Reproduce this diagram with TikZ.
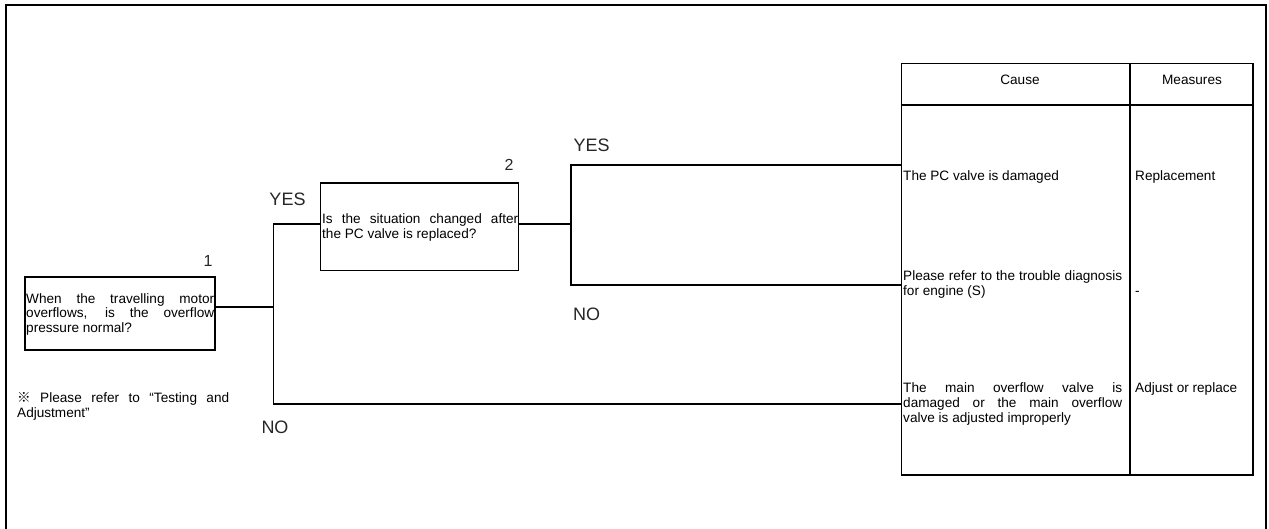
\documentclass[tikz,border=0pt]{standalone}
\usepackage{fontspec}
\setmainfont{Liberation Sans}
\newfontfamily\cjkmark{Noto Sans CJK SC}
\newcommand\firstln{\hyphenpenalty=10000 \exhyphenpenalty=10000 \tolerance=10000 \rule{0pt}{10pt}}
\begin{document}
\begin{tikzpicture}[x=1pt,y=-1pt,
  box/.style={draw, line width=1.6pt, inner sep=0pt},
  conn/.style={line width=1.4pt},
  txt/.style={anchor=north west, inner sep=0pt, align=justify,
    font=\fontsize{13.6}{15}\selectfont},
  one/.style={anchor=base west, inner sep=0pt, font=\fontsize{13.6}{15}\selectfont},
  lbl/.style={anchor=base, inner sep=0pt, text=black!85, font=\fontsize{18}{18}\selectfont},
  num/.style={anchor=base, inner sep=0pt, text=black!85, font=\fontsize{16}{16}\selectfont}]
\useasboundingbox (0,0) rectangle (1269,529);
% frame
\draw[line width=2.5pt] (6,529) -- (6,5) -- (1266,5) -- (1266,529);

% question boxes
\node[box, minimum width=190pt, minimum height=73pt] (b1) at (120,313.5) {};
\node[box, minimum width=198pt, minimum height=87.5pt] (b2) at (419.5,226.75) {};

% table
\node[box, minimum width=351.5pt, minimum height=411.5pt] (tbl) at (1077.25,269.25) {};
\coordinate (hd) at (0,105);
\coordinate (cd) at (1130,0);
\draw[line width=1.6pt] (tbl.west |- hd) -- (tbl.east |- hd);
\draw[line width=1.6pt] (tbl.north -| cd) -- (tbl.south -| cd);

% junctions
\coordinate (j1) at (273.5,307);
\coordinate (y1) at (273.5,224);
\coordinate (n1) at (273.5,404);
\coordinate (j2) at (571,224);
\coordinate (y2) at (571,165);
\coordinate (n2) at (571,285);

% connectors
\draw[conn] (b1.east |- j1) -- (j1);
\draw[conn] (b2.west |- y1) -- (y1) -- (n1) -- (tbl.west |- n1);
\draw[conn] (b2.east |- j2) -- (j2);
\draw[conn] (tbl.west |- y2) -- (y2) -- (n2) -- (tbl.west |- n2);

% labels
\node[num] (l1) at (208,266.7) {1};
\node[num] (l2) at (509,170.7) {2};
\node[lbl] (yes1) at (287.5,206) {YES};
\node[lbl] (no1) at (275,433.3) {NO};
\node[lbl] (yes2) at (591.7,151.7) {YES};
\node[lbl] (no2) at (586.7,320) {NO};

% box texts
\node[txt, text width=188pt, font=\fontsize{13.6}{14.5}\selectfont] (t1) at (26,293.3)
  {\firstln When the travelling motor\linebreak overflows, is the overflow\linebreak pressure normal?};
\node[txt, text width=196pt] (t2) at (322,213)
  {\firstln Is the situation changed after\linebreak the PC valve is replaced?};

% note
\node[txt, text width=212pt, font=\fontsize{13.6}{15.5}\selectfont] (note) at (17,392.2)
  {\firstln{\cjkmark ※} Please refer to “Testing and\linebreak Adjustment”};

% table texts
\node[anchor=base, inner sep=0pt, font=\fontsize{13.6}{15}\selectfont] (hc) at (1020,85) {Cause};
\node[anchor=base, inner sep=0pt, font=\fontsize{13.6}{15}\selectfont] (hm) at (1192,85) {Measures};
\node[one] (c1) at (903,181) {The PC valve is damaged};
\node[txt, text width=219pt] (c2) at (903,270)
  {\firstln Please refer to the trouble diagnosis\linebreak for engine (S)};
\node[txt, text width=219pt] (c3) at (903,382.6)
  {\firstln The main overflow valve is\linebreak damaged or the main overflow\linebreak valve is adjusted improperly};
\node[one] (m1) at (1135,181) {Replacement};
\node[one] (m2) at (1135,296) {-};
\node[one] (m3) at (1135,392.6) {Adjust or replace};
\end{tikzpicture}
\end{document}
